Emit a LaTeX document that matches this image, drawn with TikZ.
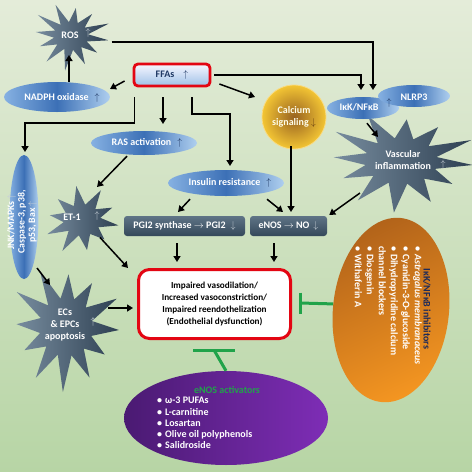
\documentclass[tikz,border=0pt]{standalone}
\usepackage{fontspec}
\setmainfont{Carlito}
\usetikzlibrary{arrows.meta,shapes.geometric,calc}
\definecolor{bgtop}{HTML}{E4ECD9}
\definecolor{bgbot}{HTML}{B7D5A5}
\definecolor{redb}{HTML}{E30613}
\definecolor{navy}{HTML}{1F3864}
\definecolor{navyt}{HTML}{1C2A5A}
\definecolor{tgreen}{HTML}{21A34A}
\definecolor{blA}{HTML}{86B1E2}
\definecolor{blB}{HTML}{3C70B6}
\definecolor{blC}{HTML}{AFCFEF}
\definecolor{stA}{HTML}{778C9E}
\definecolor{stB}{HTML}{2E4052}
\definecolor{dbA}{HTML}{5F7486}
\definecolor{dbB}{HTML}{34485A}
\definecolor{lgray}{HTML}{C8D0D8}
\definecolor{calin}{HTML}{986220}
\definecolor{calout}{HTML}{F3C534}
\definecolor{calbr}{HTML}{6A4010}
\definecolor{orA}{HTML}{B2631A}
\definecolor{orB}{HTML}{F39521}
\definecolor{puA}{HTML}{4A1A72}
\definecolor{puB}{HTML}{7E2DB6}
\newcommand\starplot[7]{plot[variable=\k, samples at={0,...,#5}] ({#1+ifthenelse(mod(\k,2)==0,1+0.13*sin(\k*137.5),#6)*#3*cos(\k*360/(#5+1)+#7)}, {#2+ifthenelse(mod(\k,2)==0,1+0.13*sin(\k*137.5),#6)*#4*sin(\k*360/(#5+1)+#7)}) -- cycle}
\begin{document}
\begin{tikzpicture}[x=1pt,y=-1pt,
  font=\fontsize{10}{12}\selectfont\bfseries,
  arr/.style={line width=1.5pt, -{Triangle[length=6pt,width=7pt]}},
  inh/.style={line width=3pt, draw=tgreen},
  blueell/.style={ellipse, inner sep=0, left color=blA, right color=blC, middle color=blB},
  darkbox/.style={rectangle, rounded corners=3pt, top color=dbA, bottom color=dbB, text=white, minimum height=20, inner sep=0},
  lbl/.style={inner sep=0, align=center, text=white},
  starfill/.style={left color=stA, right color=stB},
  upd/.style={inner sep=0, text=navy},
  upl/.style={inner sep=0, text=lgray}]
\useasboundingbox (0,0) rectangle (472,472);
\fill[top color=bgtop, bottom color=bgbot] (0,0) rectangle (472,472);

% stars
\path[starfill] \starplot{71}{36}{38}{31}{23}{0.45}{8};
\path[starfill] \starplot{401}{161}{72}{46}{23}{0.5}{5};
\path[starfill] \starplot{82}{220}{37}{31}{19}{0.5}{10};
\path[starfill] \starplot{66}{327}{53}{58}{23}{0.5}{3};
\node[lbl] (ros) at (70,35) {ROS};
\node[upl] at (88,33) {$\uparrow$};
\node[lbl] (vasc) at (403,160) {Vascular\\inflammation};
\node[upl] at (443,165) {$\uparrow$};
\node[lbl] (et) at (72,217) {ET-1};
\node[upl] at (97,216) {$\uparrow$};
\node[lbl] (ecs) at (65,325) {ECs\\\& EPCs\\apoptosis};
\node[upl] at (93,322) {$\uparrow$};

% ellipses
\node[blueell, minimum width=106, minimum height=30] (nadph) at (57,97) {};
\node[lbl] at (62,98) {NADPH oxidase\hspace{6pt}{\color{navy}$\uparrow$}};
\node[blueell, minimum width=106, minimum height=24] (ras) at (144,143) {};
\node[lbl] at (147,143) {RAS activation\hspace{6pt}{\color{navy}$\uparrow$}};
\node[blueell, minimum width=116, minimum height=26] (ins) at (226,183) {};
\node[lbl] at (230,183) {Insulin resistance\hspace{6pt}{\color{navy}$\uparrow$}};
\node[blueell, minimum width=72, minimum height=22] (ikk) at (363,108) {};
\node[lbl] at (359,107) {IκK/NFκB};
\node[blueell, minimum width=72, minimum height=22] (nlrp) at (414,96) {};
\node[lbl] at (414,97) {NLRP3};
\node[upd] at (389,103) {$\uparrow$};
\node[ellipse, inner sep=0, rotate=90, minimum width=124, minimum height=29, left color=blA, right color=blC, middle color=blB] (jnk) at (24,217) {};
\node[lbl, rotate=90, font=\fontsize{9.8}{10.5}\selectfont\bfseries] at (22,222) {JNK/MAPKs {\color{lgray}$\uparrow$}\\Caspase-3, p38,\\p53, Bax {\color{lgray}$\uparrow$}};

% calcium
\node[circle, minimum size=64, inner sep=0, inner color=calin, outer color=calout, draw=calout!60!white, line width=0.8pt] (cal) at (294,117) {};
\node[lbl, text=white!92!yellow] at (294,117) {Calcium\\signaling\hspace{2pt}{\color{calbr}$\downarrow$}};

% FFAs
\node[draw=redb, line width=2.8pt, rounded corners=4pt, top color=white!85!blue!20, bottom color=blA!80, minimum width=76, minimum height=22, text=navy, inner sep=0] (ffa) at (172,75) {FFAs\hspace{9pt}$\uparrow$};

% boxes
\node[darkbox, minimum width=121] (pgi) at (184.5,226) {PGI2 synthase $\rightarrow$ PGI2\hspace{5pt}{\color{lgray}$\downarrow$}};
\node[darkbox, minimum width=77] (enos) at (288.5,226) {eNOS $\rightarrow$ NO\hspace{4pt}{\color{lgray}$\downarrow$}};
\node[draw=redb, line width=3pt, rounded corners=11pt, fill=white, minimum width=152, minimum height=69, align=center, inner sep=0, font=\fontsize{9.2}{11.7}\selectfont\bfseries] (main) at (214.5,304) {Impaired vasodilation/\\Increased vasoconstriction/\\Impaired reendothelization\\(Endothelial dysfunction)};

% orange ellipse
\node[ellipse, inner sep=0, rotate=-6, minimum width=116, minimum height=185, top color=orA, bottom color=orB, shading angle=25] (orng) at (391,310) {};
\node[rotate=-90, inner sep=0, text=navyt] (otitle) at (427,309) {IκK/NFκB inhibitors};
\node[rotate=-90, anchor=north west, inner sep=0, align=left, text=white] (olist) at (422,246) {\textbullet\hspace{3pt}\textit{Astragalus membranaceus}\\\textbullet\hspace{3pt}Cyanidin-3-O-glucoside\\\textbullet\hspace{3pt}Dihydropyridine calcium\\channel blockers\\\textbullet\hspace{3pt}Diosgenin\\\textbullet\hspace{3pt}Withaferin A};

% purple ellipse
\node[ellipse, inner sep=0, minimum width=204, minimum height=94, left color=puA, right color=puB] (purp) at (226,418) {};
\node[inner sep=0, text=tgreen] (ptitle) at (227,390) {eNOS activators};
\node[anchor=north west, inner sep=0, align=left, text=white, font=\fontsize{10}{11.3}\selectfont\bfseries] (plist) at (157,397) {\textbullet\hspace{3pt}ω-3 PUFAs\\\textbullet\hspace{3pt}L-carnitine\\\textbullet\hspace{3pt}Losartan\\\textbullet\hspace{3pt}Olive oil polyphenols\\\textbullet\hspace{3pt}Salidroside};

% connectors
\draw[arr] ([shift={(-8,6)}]ffa.west) -- (110,89);
\draw[arr] ([xshift=12]nadph.north) -- (69,55);
\draw[arr] ([shift={(33,7)}]ros.east) -| (373,90);
\draw[arr] ([xshift=3]ffa.east) -| (361,90);
\draw[arr] ([shift={(8,9)}]ffa.east) -- (255,97);
\draw[arr] ([shift={(-9,10)}]ffa.south) -- (163,124);
\draw[arr] ([shift={(2,10)}]ffa.south west) |- (25,123) -- (25,152);
\draw[arr] ([shift={(20,10)}]ffa.south) |- (230,114) -- (230,166);
\draw[arr] ([shift={(4,4)}]ikk.south) -- (378,137);
\draw[arr] ([xshift=-3,yshift=3]cal.south) -- (291,212);
\draw[arr] (360,193) -- ([shift={(2,-11)}]enos.east);
\draw[arr] ([shift={(-17,1)}]ras.south) -- (97,187);
\draw[arr] ([shift={(-36,3)}]ins.south) -- (178,212);
\draw[arr] ([shift={(41,3)}]ins.south) -- (283,212);
\draw[arr] ([shift={(-7.5,7)}]pgi.south) -- (177,262);
\draw[arr] ([shift={(-14.5,7)}]enos.south) -- (274,262);
\draw[arr] ([shift={(28,17)}]et.south) -- (128,268);
\draw[arr] ([shift={(13,51)}]jnk.center) -- (50,285);
\draw[arr] ([shift={(23,-17)}]ecs.east) -- (133,308);

% inhibition
\draw[inh] (orng.west) -- (300,303);
\draw[inh] (300,292.5) -- (300,314);
\draw[inh] (purp.north) -- (214,350);
\draw[inh] (193,350) -- (235,350);
\end{tikzpicture}
\end{document}
